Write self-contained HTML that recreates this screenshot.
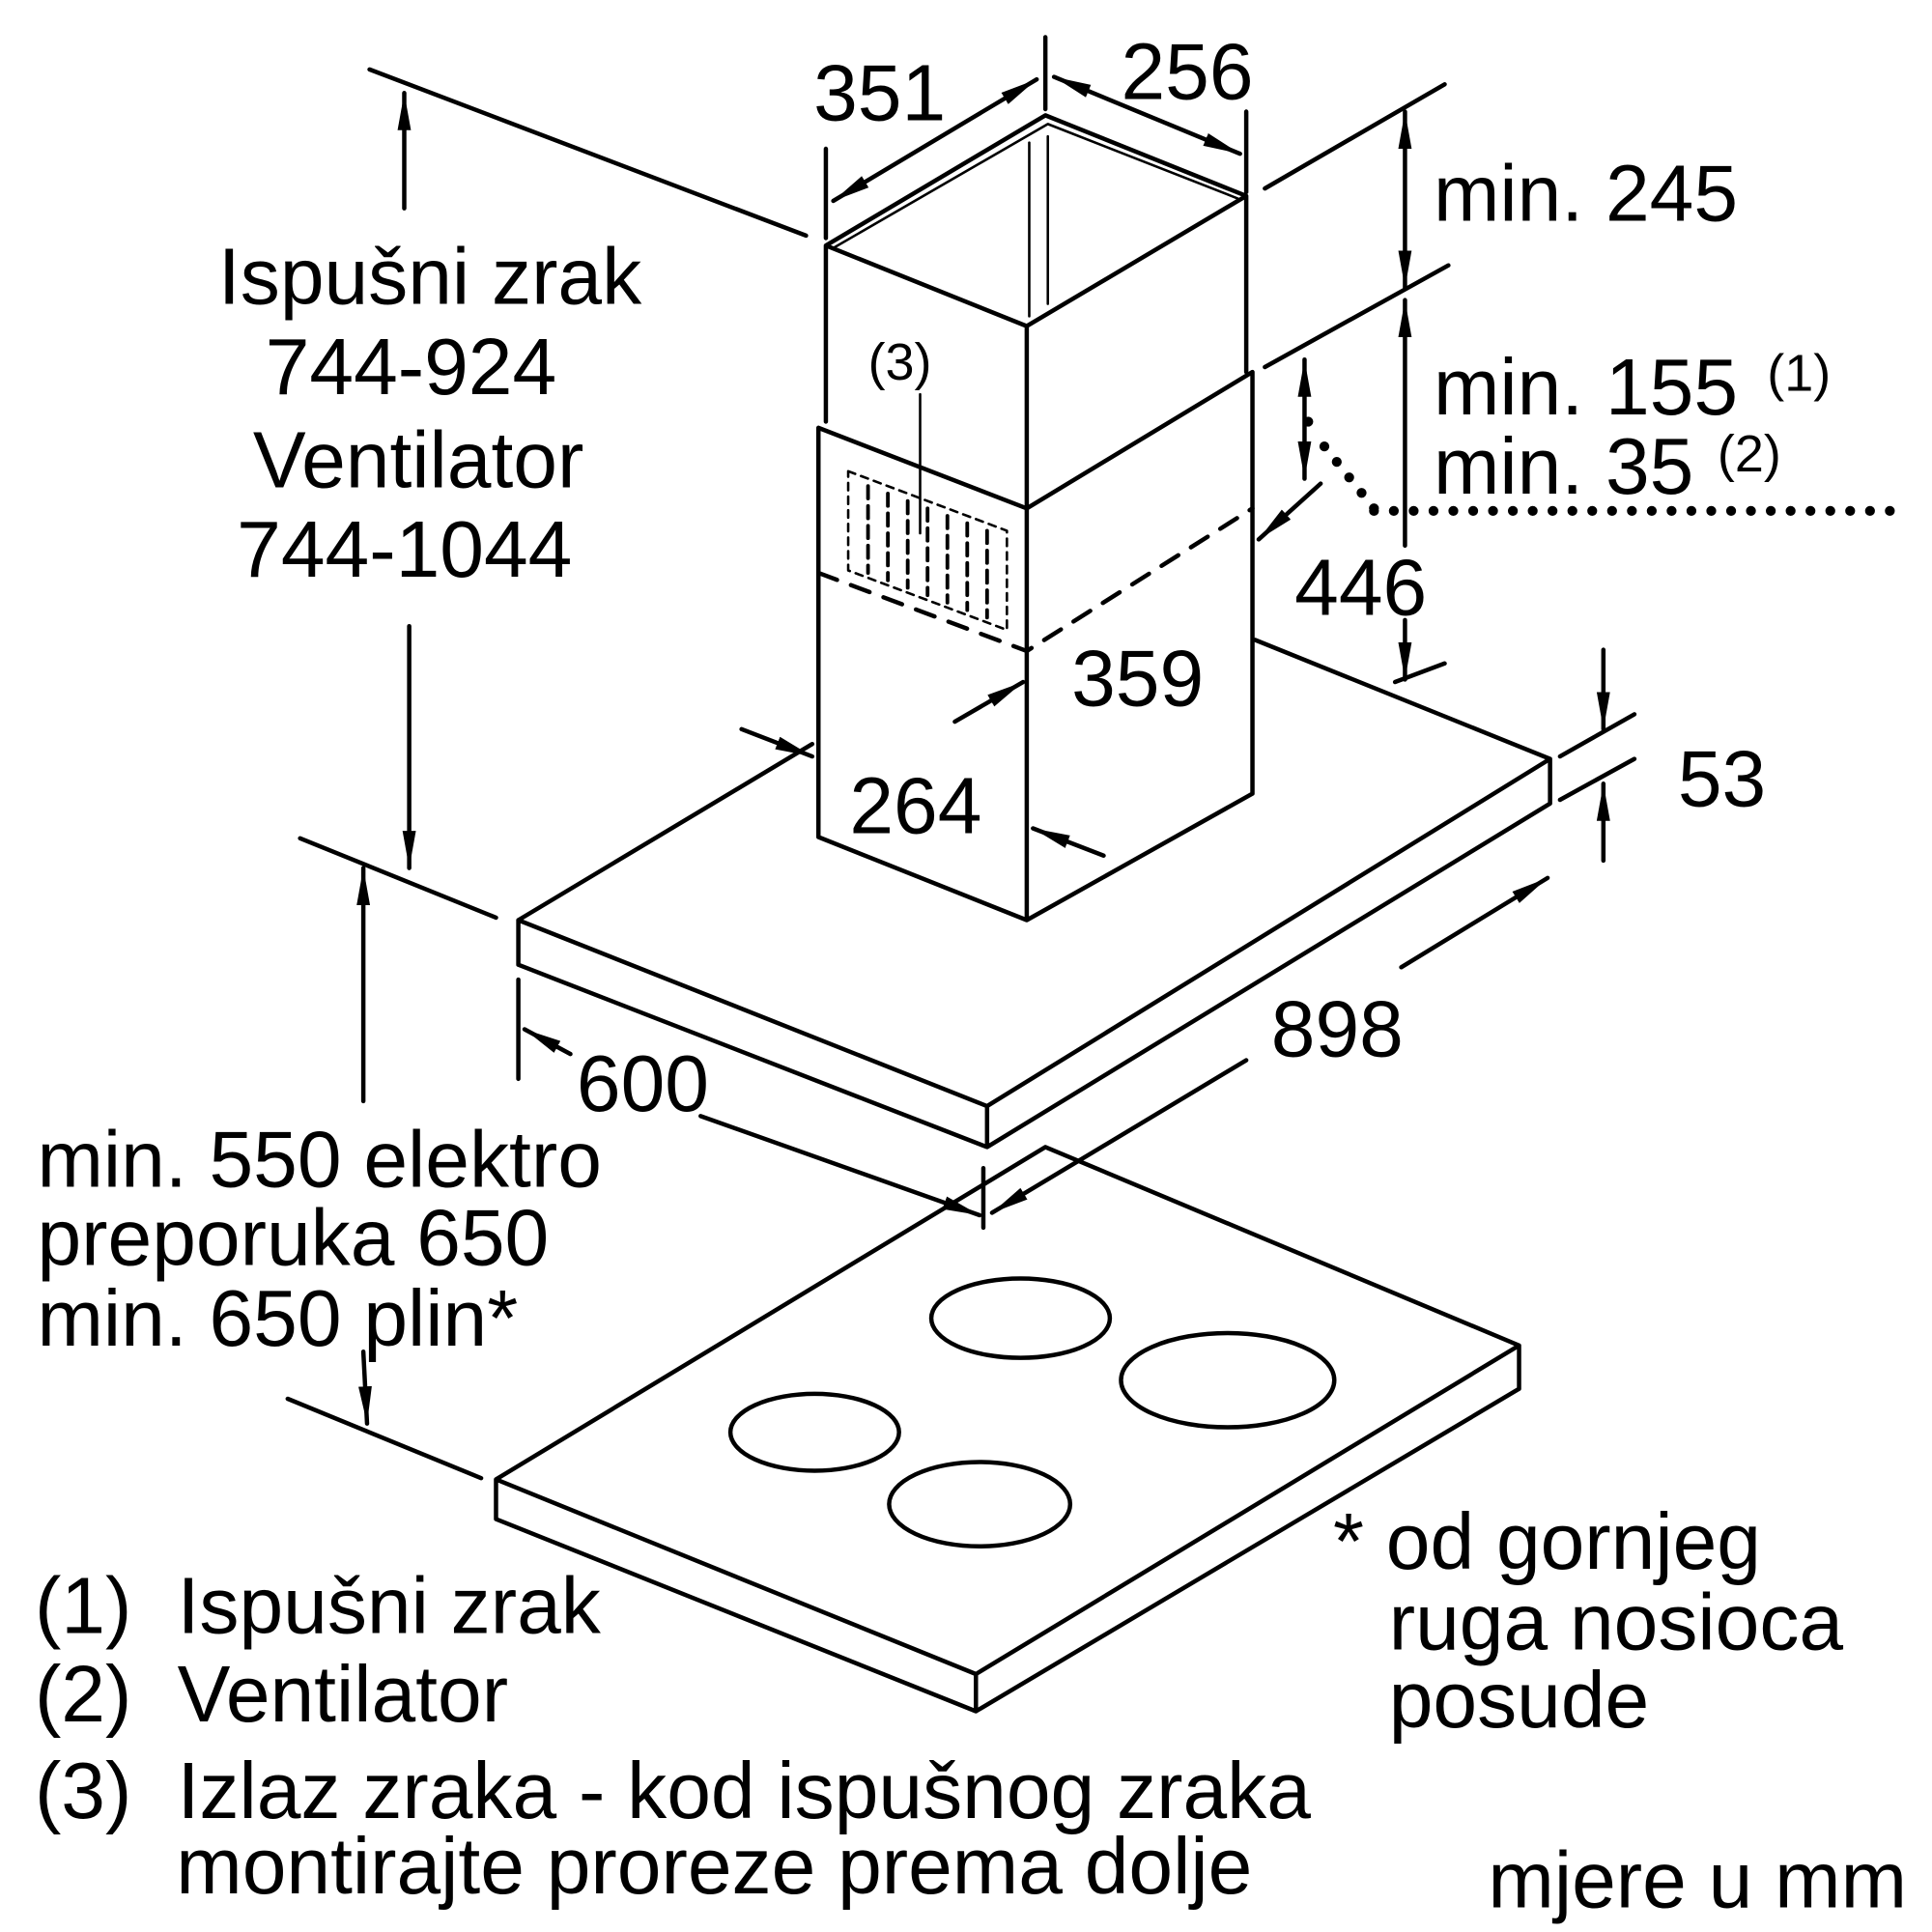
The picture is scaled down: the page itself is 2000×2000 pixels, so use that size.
<!DOCTYPE html>
<html><head><meta charset="utf-8"><style>
html,body{margin:0;padding:0;background:#fff;}
svg{display:block;}
text{font-family:"Liberation Sans",sans-serif;fill:#000;}
</style></head><body>
<svg width="2000" height="2000" viewBox="0 0 1558 1558" xmlns="http://www.w3.org/2000/svg">
<defs>
<marker id="A" viewBox="0 0 10 10" refX="10" refY="5" markerWidth="30" markerHeight="30" markerUnits="userSpaceOnUse" orient="auto-start-reverse"><path d="M0,3.2 L10,5 L0,6.8 z" fill="#000"/></marker>
</defs>
<g fill="none" stroke="#000" stroke-width="3.5" stroke-linejoin="round" stroke-linecap="round">
<path d="M400,1193 L843,925 L1225,1085 L1225,1120 M400,1193 L787,1350 L1225,1085 M400,1193 L400,1225 L787,1380 L1225,1120 M787,1350 L787,1380"/>
<ellipse cx="823" cy="1063" rx="72" ry="32"/>
<ellipse cx="990" cy="1113" rx="86" ry="38"/>
<ellipse cx="657" cy="1155" rx="68" ry="31"/>
<ellipse cx="790" cy="1213" rx="73" ry="34"/>
<path d="M418,742 L655,600 M1012,516 L1250,612 L1250,648 M418,742 L796,892 L1250,612 M418,742 L418,778 L796,925 L1250,648 M796,892 L796,925"/>
<path d="M660,345 L828,410 L1010,300 M660,345 L660,675 L828,742 L1010,640 L1010,300 M828,410 L828,742"/>
<path d="M660,462 L828,525 L1010,410" stroke-dasharray="16,12"/>
<path d="M666,198 L843,93 L1005,158 L828,263 Z M666,198 L666,340 M828,263 L828,410 M1005,158 L1005,300"/>
<path d="M672,200 L845,100 L998,160 M830,115 L830,255 M845,110 L845,245" stroke-width="2"/>
<path d="M684,380 L812,428 L812,508 L684,460 Z" stroke-width="2" stroke-dasharray="6,5"/>
<path d="M700,392 L700,462 M716,398 L716,468 M732,404 L732,474 M748,410 L748,480 M764,416 L764,486 M780,422 L780,492 M796,428 L796,498" stroke-width="3" stroke-dasharray="10,6"/>
<path d="M298,56 L650,190 M1020,152 L1165,68 M1020,296 L1168,214 M1125,550 L1165,535 M242,676 L400,740 M1258,610 L1318,576 M1258,645 L1318,612 M232,1128 L388,1192 M418,790 L418,870 M793,942 L793,990 M666,120 L666,192 M843,30 L843,88 M1005,90 L1005,155"/>
<path d="M1055,340 L1060,352 M1068,360 L1108,410 M1108,412 L1530,412" stroke-width="8" stroke-dasharray="0,16" stroke-linecap="round"/>
<line x1="326" y1="168" x2="326" y2="75" marker-end="url(#A)"/>
<line x1="330" y1="505" x2="330" y2="700" marker-end="url(#A)"/>
<line x1="293" y1="888" x2="293" y2="700" marker-end="url(#A)"/>
<line x1="672" y1="162" x2="836" y2="64" marker-start="url(#A)" marker-end="url(#A)"/>
<line x1="850" y1="62" x2="1000" y2="124" marker-start="url(#A)" marker-end="url(#A)"/>
<line x1="1133" y1="90" x2="1133" y2="232" marker-start="url(#A)" marker-end="url(#A)"/>
<line x1="1133" y1="242" x2="1133" y2="440" marker-start="url(#A)"/>
<line x1="1133" y1="500" x2="1133" y2="548" marker-end="url(#A)"/>
<line x1="1052" y1="290" x2="1052" y2="386" marker-start="url(#A)" marker-end="url(#A)"/>
<line x1="1065" y1="390" x2="1015" y2="435" marker-end="url(#A)"/>
<line x1="770" y1="582" x2="825" y2="550" marker-end="url(#A)"/>
<line x1="598" y1="588" x2="655" y2="610" marker-end="url(#A)"/>
<line x1="890" y1="690" x2="833" y2="668" marker-end="url(#A)"/>
<line x1="1293" y1="524" x2="1293" y2="588" marker-end="url(#A)"/>
<line x1="1293" y1="694" x2="1293" y2="632" marker-end="url(#A)"/>
<line x1="1130" y1="780" x2="1248" y2="708" marker-end="url(#A)"/>
<line x1="1005" y1="855" x2="800" y2="978" marker-end="url(#A)"/>
<line x1="460" y1="850" x2="423" y2="830" marker-end="url(#A)"/>
<line x1="565" y1="900" x2="790" y2="980" marker-end="url(#A)"/>
<line x1="293" y1="1090" x2="296" y2="1148" marker-end="url(#A)"/>
<line x1="742" y1="318" x2="742" y2="430" stroke-width="2"/>
</g>
<g font-size="64">
<text x="656" y="97">351</text>
<text x="904" y="80">256</text>
<text x="1156" y="178">min. 245</text>
<text x="1156" y="334">min. 155</text>
<text x="1156" y="398">min. 35</text>
<text x="1044" y="496">446</text>
<text x="864" y="569">359</text>
<text x="685" y="672">264</text>
<text x="1353" y="650">53</text>
<text x="1025" y="852">898</text>
<text x="465" y="896">600</text>
<text x="176" y="245">Ispušni zrak</text>
<text x="214" y="318">744-924</text>
<text x="204" y="393">Ventilator</text>
<text x="191" y="465">744-1044</text>
<text x="30" y="957">min. 550 elektro</text>
<text x="30" y="1020">preporuka 650</text>
<text x="30" y="1085">min. 650 plin*</text>
<text x="1075" y="1265">* od gornjeg</text>
<text x="1120" y="1330">ruga nosioca</text>
<text x="1120" y="1393">posude</text>
<text x="28" y="1317">(1)</text><text x="143" y="1317">Ispušni zrak</text>
<text x="28" y="1388">(2)</text><text x="143" y="1388">Ventilator</text>
<text x="28" y="1466">(3)</text><text x="143" y="1466">Izlaz zraka - kod ispušnog zraka</text>
<text x="142" y="1527">montirajte proreze prema dolje</text>
<text x="1200" y="1538">mjere u mm</text>
</g>
<g font-size="42">
<text x="700" y="306">(3)</text>
<text x="1425" y="315">(1)</text>
<text x="1385" y="380">(2)</text>
</g>
</svg>
</body></html>
